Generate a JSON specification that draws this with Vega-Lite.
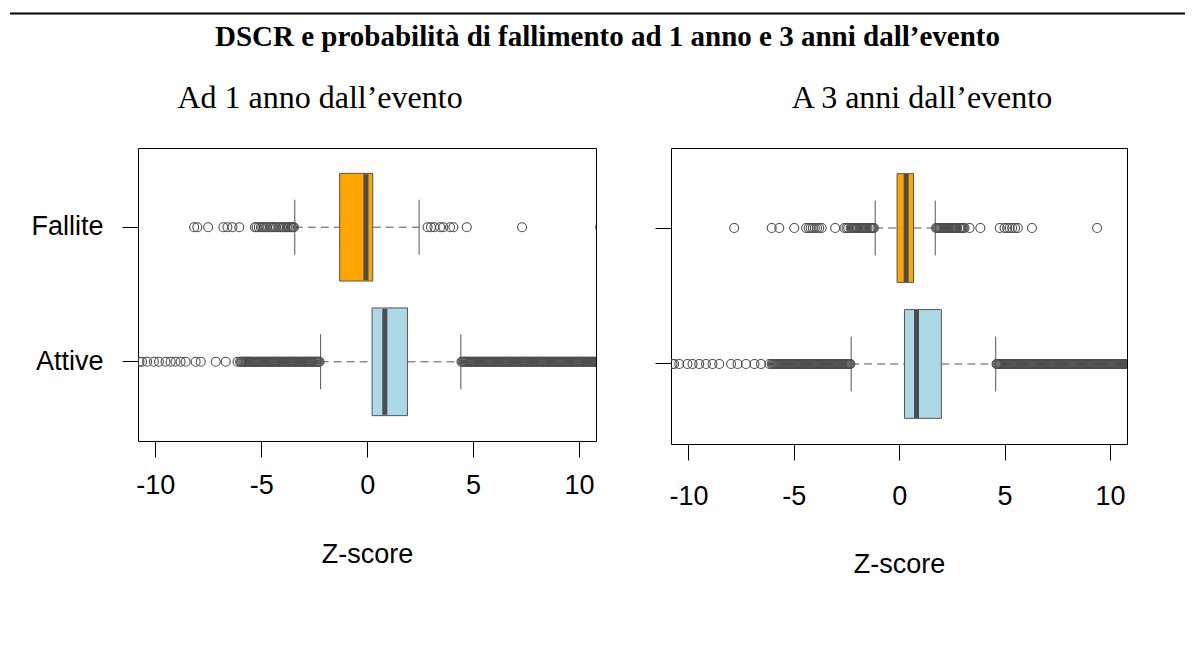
{
  "$schema": "https://vega.github.io/schema/vega-lite/v6.json",
  "background": "white",
  "padding": {"left": 9, "top": 12, "right": 0, "bottom": 0},
  "config": {
    "view": {"stroke": "#000000", "strokeWidth": 1},
    "font": "Liberation Sans",
    "axis": {"labelFont": "Liberation Sans", "labelFontSize": 27, "labelColor": "#000000", "tickColor": "#000000", "tickWidth": 1, "tickSize": 16, "domain": false, "grid": false, "titleFont": "Liberation Sans", "titleFontSize": 27, "titleFontWeight": "normal", "titleColor": "#000000"},
    "title": {"font": "Liberation Serif", "color": "#000000"},
    "tick": {"opacity": 1}
  },
  "datasets": {
    "box1": [
      {"group": "Fallite", "lo": -3.42, "q1": -1.3, "med": -0.06, "q3": 0.26, "hi": 2.45},
      {"group": "Attive", "lo": -2.2, "q1": 0.23, "med": 0.83, "q3": 1.9, "hi": 4.42}
    ],
    "box2": [
      {"group": "Fallite", "lo": -1.14, "q1": -0.1, "med": 0.33, "q3": 0.68, "hi": 1.71},
      {"group": "Attive", "lo": -2.28, "q1": 0.25, "med": 0.82, "q3": 2.0, "hi": 4.58}
    ],
    "out1": [
      {"group": "Fallite", "z": [-8.17,-8.02,-7.51,-6.79,-6.6,-6.36,-6.04,-5.3,-5.22,-5.12,-5.02,-4.95,-4.88,-4.8,-4.72,-4.6,-4.52,-4.45,-4.38,-4.3,-4.18,-4.1,-4.02,-3.95,-3.88,-3.8,-3.75,-3.68,-3.6,-3.55,-3.5,-3.46,2.85,3.01,3.17,3.44,3.59,3.91,4.07,4.7,7.31,11.0]},
      {"group": "Attive", "z": [-10.75,-10.63,-10.39,-10.07,-9.83,-9.52,-9.28,-9.05,-8.81,-8.57,-8.1,-7.86,-7.15,-6.68,-6.12,-6.0,-5.95,-5.9,-5.85,-5.8,-5.75,-5.7,-5.65,-5.6,-5.55,-5.5,-5.45,-5.4,-5.35,-5.3,-5.25,-5.2,-5.15,-5.1,-5.05,-5.0,-4.95,-4.9,-4.85,-4.8,-4.75,-4.7,-4.65,-4.6,-4.55,-4.5,-4.45,-4.4,-4.35,-4.3,-4.25,-4.2,-4.15,-4.1,-4.05,-4.0,-3.95,-3.9,-3.85,-3.8,-3.75,-3.7,-3.65,-3.6,-3.55,-3.5,-3.45,-3.4,-3.35,-3.3,-3.25,-3.2,-3.15,-3.1,-3.05,-3.0,-2.95,-2.9,-2.85,-2.8,-2.75,-2.7,-2.65,-2.6,-2.55,-2.5,-2.45,-2.4,-2.35,-2.3,-2.25,4.45,4.5,4.55,4.6,4.65,4.7,4.75,4.8,4.85,4.9,4.95,5.0,5.05,5.1,5.15,5.2,5.25,5.3,5.35,5.4,5.45,5.5,5.55,5.6,5.65,5.7,5.75,5.8,5.85,5.9,5.95,6.0,6.05,6.1,6.15,6.2,6.25,6.3,6.35,6.4,6.45,6.5,6.55,6.6,6.65,6.7,6.75,6.8,6.85,6.9,6.95,7.0,7.05,7.1,7.15,7.2,7.25,7.3,7.35,7.4,7.45,7.5,7.55,7.6,7.65,7.7,7.75,7.8,7.85,7.9,7.95,8.0,8.05,8.1,8.15,8.2,8.25,8.3,8.35,8.4,8.45,8.5,8.55,8.6,8.65,8.7,8.75,8.8,8.85,8.9,8.95,9.0,9.05,9.1,9.15,9.2,9.25,9.3,9.35,9.4,9.45,9.5,9.55,9.6,9.65,9.7,9.75,9.8,9.85,9.9,9.95,10.0,10.05,10.1,10.15,10.2,10.25,10.3,10.35,10.4,10.45,10.5,10.55,10.6,10.65,10.7,10.75,10.8,10.85,10.9,10.95,11.0]}
    ],
    "out2": [
      {"group": "Fallite", "z": [-7.83,-6.05,-5.69,-4.98,-4.42,-4.3,-4.2,-4.1,-4.0,-3.9,-3.8,-3.68,-3.04,-2.6,-2.5,-2.42,-2.3,-2.25,-2.2,-2.15,-2.1,-2.05,-2.0,-1.95,-1.85,-1.8,-1.75,-1.7,-1.65,-1.6,-1.55,-1.5,-1.4,-1.35,-1.3,-1.25,-1.2,1.75,1.8,1.85,1.9,1.95,2.0,2.05,2.1,2.15,2.2,2.25,2.3,2.35,2.4,2.45,2.5,2.55,2.6,2.65,2.7,2.75,2.85,2.9,2.95,3.0,3.05,3.1,3.34,3.85,4.77,5.0,5.12,5.24,5.36,5.5,5.63,6.3,9.39]},
      {"group": "Attive", "z": [-10.76,-10.68,-10.44,-10.05,-9.81,-9.49,-9.17,-8.86,-8.54,-7.98,-7.67,-7.27,-6.87,-6.56,-6.16,-6.05,-6.0,-5.95,-5.9,-5.85,-5.8,-5.75,-5.7,-5.65,-5.6,-5.55,-5.5,-5.45,-5.4,-5.35,-5.3,-5.25,-5.2,-5.15,-5.1,-5.05,-5.0,-4.95,-4.9,-4.85,-4.8,-4.75,-4.7,-4.65,-4.6,-4.55,-4.5,-4.45,-4.4,-4.35,-4.3,-4.25,-4.2,-4.15,-4.1,-4.05,-4.0,-3.95,-3.9,-3.85,-3.8,-3.75,-3.7,-3.65,-3.6,-3.55,-3.5,-3.45,-3.4,-3.35,-3.3,-3.25,-3.2,-3.15,-3.1,-3.05,-3.0,-2.95,-2.9,-2.85,-2.8,-2.75,-2.7,-2.65,-2.6,-2.55,-2.5,-2.45,-2.4,-2.35,-2.32,4.62,4.65,4.7,4.75,4.8,4.85,4.9,4.95,5.0,5.05,5.1,5.15,5.2,5.25,5.3,5.35,5.4,5.45,5.5,5.55,5.6,5.65,5.7,5.75,5.8,5.85,5.9,5.95,6.0,6.05,6.1,6.15,6.2,6.25,6.3,6.35,6.4,6.45,6.5,6.55,6.6,6.65,6.7,6.75,6.8,6.85,6.9,6.95,7.0,7.05,7.1,7.15,7.2,7.25,7.3,7.35,7.4,7.45,7.5,7.55,7.6,7.65,7.7,7.75,7.8,7.85,7.9,7.95,8.0,8.05,8.1,8.15,8.2,8.25,8.3,8.35,8.4,8.45,8.5,8.55,8.6,8.65,8.7,8.75,8.8,8.85,8.9,8.95,9.0,9.05,9.1,9.15,9.2,9.25,9.3,9.35,9.4,9.45,9.5,9.55,9.6,9.65,9.7,9.75,9.8,9.85,9.9,9.95,10.0,10.05,10.1,10.15,10.2,10.25,10.3,10.35,10.4,10.45,10.5,10.55,10.6,10.65,10.7,10.75,10.8,10.85,10.9,10.95,11.0]}
    ],
    "linea": [{"elemento": "separatore"}]
  },
  "spacing": 29,
  "vconcat": [
    {
      "width": 939,
      "height": 1,
      "view": {"stroke": null},
      "title": {"text": "DSCR e probabilità di fallimento ad 1 anno e 3 anni dall’evento", "orient": "bottom", "anchor": "middle", "fontSize": 29, "fontWeight": "bold", "baseline": "alphabetic", "offset": 31},
      "data": {"name": "linea"},
      "mark": {"type": "rule", "color": "#000000", "strokeWidth": 2},
      "encoding": {
        "x": {"datum": -0.1363, "type": "quantitative", "scale": {"domain": [0, 1], "nice": false, "zero": false}, "axis": null},
        "x2": {"datum": 1.115},
        "y": {"datum": 0.5, "type": "quantitative", "scale": {"domain": [0, 1], "nice": false}, "axis": null}
      }
    },
    {
      "spacing": 57,
      "hconcat": [
        {
          "width": 458,
          "height": 293,
          "title": {"text": "Ad 1 anno dall’evento", "fontSize": 32, "fontWeight": "normal", "anchor": "middle", "dx": -47, "baseline": "alphabetic", "offset": 8},
          "layer": [
            {
              "data": {"name": "box1"},
              "mark": {"type": "rule", "color": "#555555", "strokeWidth": 1, "strokeDash": [8, 5]},
              "encoding": {
                "y": {"field": "group", "type": "nominal", "title": null, "scale": {"type": "band", "domain": ["Fallite", "Attive"], "paddingInner": 0, "paddingOuter": 0.0885}, "axis": {"labelPadding": 19, "bandPosition": 0.5, "tickSize": 16}},
                "x": {"field": "lo", "type": "quantitative", "title": "Z-score", "scale": {"domain": [-10.82, 10.8], "nice": false, "zero": false}, "axis": {"values": [-10, -5, 0, 5, 10], "labelExpr": "'' + datum.value", "labelPadding": 15, "titlePadding": 43, "labelFlush": false, "labelOverlap": false}},
                "x2": {"field": "q1"}
              }
            },
            {
              "data": {"name": "box1"},
              "mark": {"type": "rule", "color": "#555555", "strokeWidth": 1, "strokeDash": [8, 5]},
              "encoding": {
                "y": {"field": "group", "type": "nominal", "title": null},
                "x": {"field": "q3", "type": "quantitative", "title": "Z-score"},
                "x2": {"field": "hi"}
              }
            },
            {
              "data": {"name": "box1"},
              "mark": {"type": "tick", "color": "#555555", "size": 55, "thickness": 1},
              "encoding": {
                "y": {"field": "group", "type": "nominal", "title": null},
                "x": {"field": "lo", "type": "quantitative", "title": "Z-score"}
              }
            },
            {
              "data": {"name": "box1"},
              "mark": {"type": "tick", "color": "#555555", "size": 55, "thickness": 1},
              "encoding": {
                "y": {"field": "group", "type": "nominal", "title": null},
                "x": {"field": "hi", "type": "quantitative", "title": "Z-score"}
              }
            },
            {
              "data": {"name": "out1"},
              "transform": [{"flatten": ["z"]}],
              "mark": {"type": "point", "shape": "circle", "filled": false, "size": 80, "strokeWidth": 1.1, "color": "#4d4d4d", "opacity": 1, "clip": true},
              "encoding": {
                "y": {"field": "group", "type": "nominal", "title": null},
                "x": {"field": "z", "type": "quantitative", "title": "Z-score"}
              }
            },
            {
              "data": {"name": "box1"},
              "mark": {"type": "bar", "height": {"band": 0.8}, "stroke": "#555555", "strokeWidth": 1},
              "encoding": {
                "y": {"field": "group", "type": "nominal", "title": null},
                "x": {"field": "q1", "type": "quantitative", "title": "Z-score"},
                "x2": {"field": "q3"},
                "color": {"field": "group", "type": "nominal", "scale": {"domain": ["Fallite", "Attive"], "range": ["#FFA500", "#ADD8E6"]}, "legend": null}
              }
            },
            {
              "data": {"name": "box1"},
              "mark": {"type": "tick", "color": "#4d4d4d", "size": 106, "thickness": 5},
              "encoding": {
                "y": {"field": "group", "type": "nominal", "title": null},
                "x": {"field": "med", "type": "quantitative", "title": "Z-score"}
              }
            }
          ]
        },
        {
          "width": 456,
          "height": 296,
          "title": {"text": "A 3 anni dall’evento", "fontSize": 32, "fontWeight": "normal", "anchor": "middle", "dx": 23, "baseline": "alphabetic", "offset": 8},
          "layer": [
            {
              "data": {"name": "box2"},
              "mark": {"type": "rule", "color": "#555555", "strokeWidth": 1, "strokeDash": [8, 5]},
              "encoding": {
                "y": {"field": "group", "type": "nominal", "title": null, "scale": {"type": "band", "domain": ["Fallite", "Attive"], "paddingInner": 0, "paddingOuter": 0.0885}, "axis": {"labels": false, "bandPosition": 0.5, "tickSize": 16}},
                "x": {"field": "lo", "type": "quantitative", "title": "Z-score", "scale": {"domain": [-10.83, 10.81], "nice": false, "zero": false}, "axis": {"values": [-10, -5, 0, 5, 10], "labelExpr": "'' + datum.value", "labelPadding": 23, "titlePadding": 42, "labelFlush": false, "labelOverlap": false}},
                "x2": {"field": "q1"}
              }
            },
            {
              "data": {"name": "box2"},
              "mark": {"type": "rule", "color": "#555555", "strokeWidth": 1, "strokeDash": [8, 5]},
              "encoding": {
                "y": {"field": "group", "type": "nominal", "title": null},
                "x": {"field": "q3", "type": "quantitative", "title": "Z-score"},
                "x2": {"field": "hi"}
              }
            },
            {
              "data": {"name": "box2"},
              "mark": {"type": "tick", "color": "#555555", "size": 55, "thickness": 1},
              "encoding": {
                "y": {"field": "group", "type": "nominal", "title": null},
                "x": {"field": "lo", "type": "quantitative", "title": "Z-score"}
              }
            },
            {
              "data": {"name": "box2"},
              "mark": {"type": "tick", "color": "#555555", "size": 55, "thickness": 1},
              "encoding": {
                "y": {"field": "group", "type": "nominal", "title": null},
                "x": {"field": "hi", "type": "quantitative", "title": "Z-score"}
              }
            },
            {
              "data": {"name": "out2"},
              "transform": [{"flatten": ["z"]}],
              "mark": {"type": "point", "shape": "circle", "filled": false, "size": 80, "strokeWidth": 1.1, "color": "#4d4d4d", "opacity": 1, "clip": true},
              "encoding": {
                "y": {"field": "group", "type": "nominal", "title": null},
                "x": {"field": "z", "type": "quantitative", "title": "Z-score"}
              }
            },
            {
              "data": {"name": "box2"},
              "mark": {"type": "bar", "height": {"band": 0.8}, "stroke": "#555555", "strokeWidth": 1},
              "encoding": {
                "y": {"field": "group", "type": "nominal", "title": null},
                "x": {"field": "q1", "type": "quantitative", "title": "Z-score"},
                "x2": {"field": "q3"},
                "color": {"field": "group", "type": "nominal", "scale": {"domain": ["Fallite", "Attive"], "range": ["#FFA500", "#ADD8E6"]}, "legend": null}
              }
            },
            {
              "data": {"name": "box2"},
              "mark": {"type": "tick", "color": "#4d4d4d", "size": 108, "thickness": 5},
              "encoding": {
                "y": {"field": "group", "type": "nominal", "title": null},
                "x": {"field": "med", "type": "quantitative", "title": "Z-score"}
              }
            }
          ]
        }
      ]
    }
  ]
}
